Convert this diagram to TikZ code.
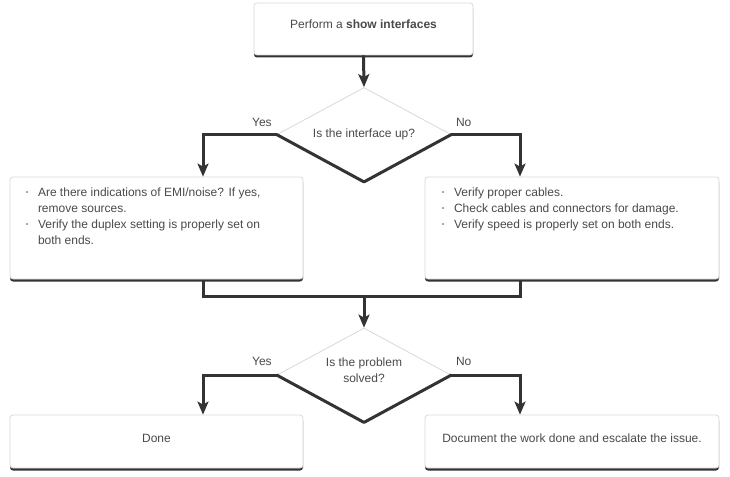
\documentclass[tikz,border=0pt]{standalone}
\usepackage{fontspec}
\setmainfont{Liberation Sans}
\usetikzlibrary{shapes.geometric,arrows.meta,shadows}
\definecolor{txt}{HTML}{4A4A4A}
\definecolor{ln}{HTML}{333333}
\definecolor{bd}{HTML}{DADADA}
\newcommand{\bitem}[1]{\par\hangindent=12pt\hangafter=1\noindent\makebox[12pt][l]{\raisebox{1.5pt}{\scalebox{0.5}{\textbullet}}}#1}
\begin{document}
\begin{tikzpicture}[x=1pt,y=-1pt,
  font=\fontsize{12}{16}\selectfont, text=txt,
  box/.style={draw=bd, line width=0.8pt, fill=white, rounded corners=3pt, inner sep=0pt,
    drop shadow={shadow xshift=0pt, shadow yshift=-2.5pt, fill=ln, opacity=1}},
  listbox/.style={box, inner xsep=16pt, inner ysep=10.5pt},
  dec/.style={diamond, draw=bd, line width=0.8pt, fill=white, inner sep=0pt, aspect=1.85,
    minimum width=174pt, minimum height=94pt},
  dark/.style={draw=ln, line width=3pt, line join=round},
  conn/.style={draw=ln, line width=3pt, -{Stealth[length=13pt,width=11pt,inset=3pt]}},
  plain/.style={draw=ln, line width=3pt},
  lbl/.style={inner sep=0pt, text=txt}]
\useasboundingbox (0,0) rectangle (730,476);
\fill[white] (0,0) rectangle (730,476);

\node[box, minimum width=219pt, minimum height=52pt, text height=9pt, text depth=10pt]
  (top) at (363.5,29) {Perform a \textbf{show interfaces}};

\node[dec] (d1) at (364,134.5) {Is the interface up?};
\draw[dark] (d1.west) -- (d1.south) -- (d1.east);

\node[listbox] (lbox) at (156.5,228) {\parbox[c][81pt][t]{261pt}{\raggedright\rightskip=14pt plus 1fil
  \bitem{Are there indications of EMI/noise? If yes, remove sources.}
  \bitem{Verify the duplex setting is properly set on both ends.}}};
\node[listbox, inner xsep=17pt] (rbox) at (572,228) {\parbox[c][81pt][t]{260pt}{\raggedright
  \bitem{Verify proper cables.}
  \bitem{Check cables and connectors for damage.}
  \bitem{Verify speed is properly set on both ends.}}};

\coordinate (lcol) at (203,0);
\coordinate (rcol) at (520,0);
\coordinate (merge) at (364,296);

\node[dec, label={[align=center, yshift=4.5pt]center:Is the problem\\solved?}] (d2) at (364,375) {};
\draw[dark] (d2.west) -- (d2.south) -- (d2.east);

\node[box, minimum width=293pt, minimum height=53pt, text height=9pt, text depth=8pt]
  (done) at (156.5,441.5) {Done};
\node[box, minimum width=294pt, minimum height=53pt, text height=9pt, text depth=8pt]
  (esc) at (572,441.5) {Document the work done and escalate the issue.};

\draw[conn] (top.south) -- (d1.north);
\draw[conn] (d1.west) -| node[lbl, pos=0.1, yshift=12pt] {Yes} (lbox.north -| lcol);
\draw[conn] (d1.east) -| node[lbl, pos=0.09, yshift=12pt] {No} (rbox.north -| rcol);
\draw[plain] ([yshift=-2pt]lbox.south -| lcol) |- (merge) -| ([yshift=-2pt]rbox.south -| rcol);
\draw[conn] (merge) -- (d2.north);
\draw[conn] (d2.west) -| node[lbl, pos=0.1, yshift=14pt] {Yes} (done.north -| lcol);
\draw[conn] (d2.east) -| node[lbl, pos=0.09, yshift=14pt] {No} (esc.north -| rcol);
\end{tikzpicture}
\end{document}
